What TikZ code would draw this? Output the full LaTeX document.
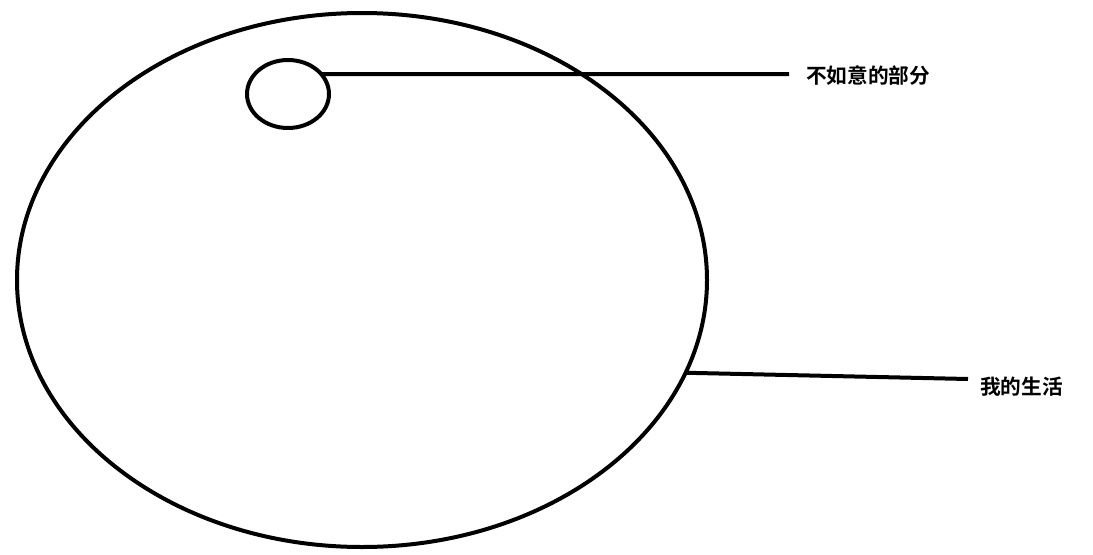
\documentclass[tikz,border=0pt]{standalone}
\usepackage{fontspec}
\newfontfamily\cjk{Noto Sans CJK SC Bold}
\usetikzlibrary{shapes.geometric}
\usetikzlibrary{positioning}

\begin{document}
\begin{tikzpicture}[x=0.75pt,y=-0.75pt,
	ring/.style={draw,ellipse,line width=3pt,inner sep=0pt,outer sep=0pt},
	tag/.style={font=\cjk\fontsize{15.5}{18}\selectfont,inner sep=0pt,anchor=west}]
	\useasboundingbox (0,0) rectangle (1093,554);
	\node[ring,minimum width=517.5pt,minimum height=400.5pt] (life) at (362,280) {};
	\node[ring,minimum width=61.5pt,minimum height=51pt] (bad) at (288,94) {};
	\coordinate (e1) at (789,74);
	\coordinate (e2) at (968,379);
	\node[tag] (badlbl) at (806,76) {不如意的部分};
	\node[tag] (lifelbl) at (980,387) {我的生活};
	\draw[line width=3pt] (bad.31) -- (e1);
	\draw[line width=3pt] (life.-16) -- (e2);
\end{tikzpicture}
\end{document}
